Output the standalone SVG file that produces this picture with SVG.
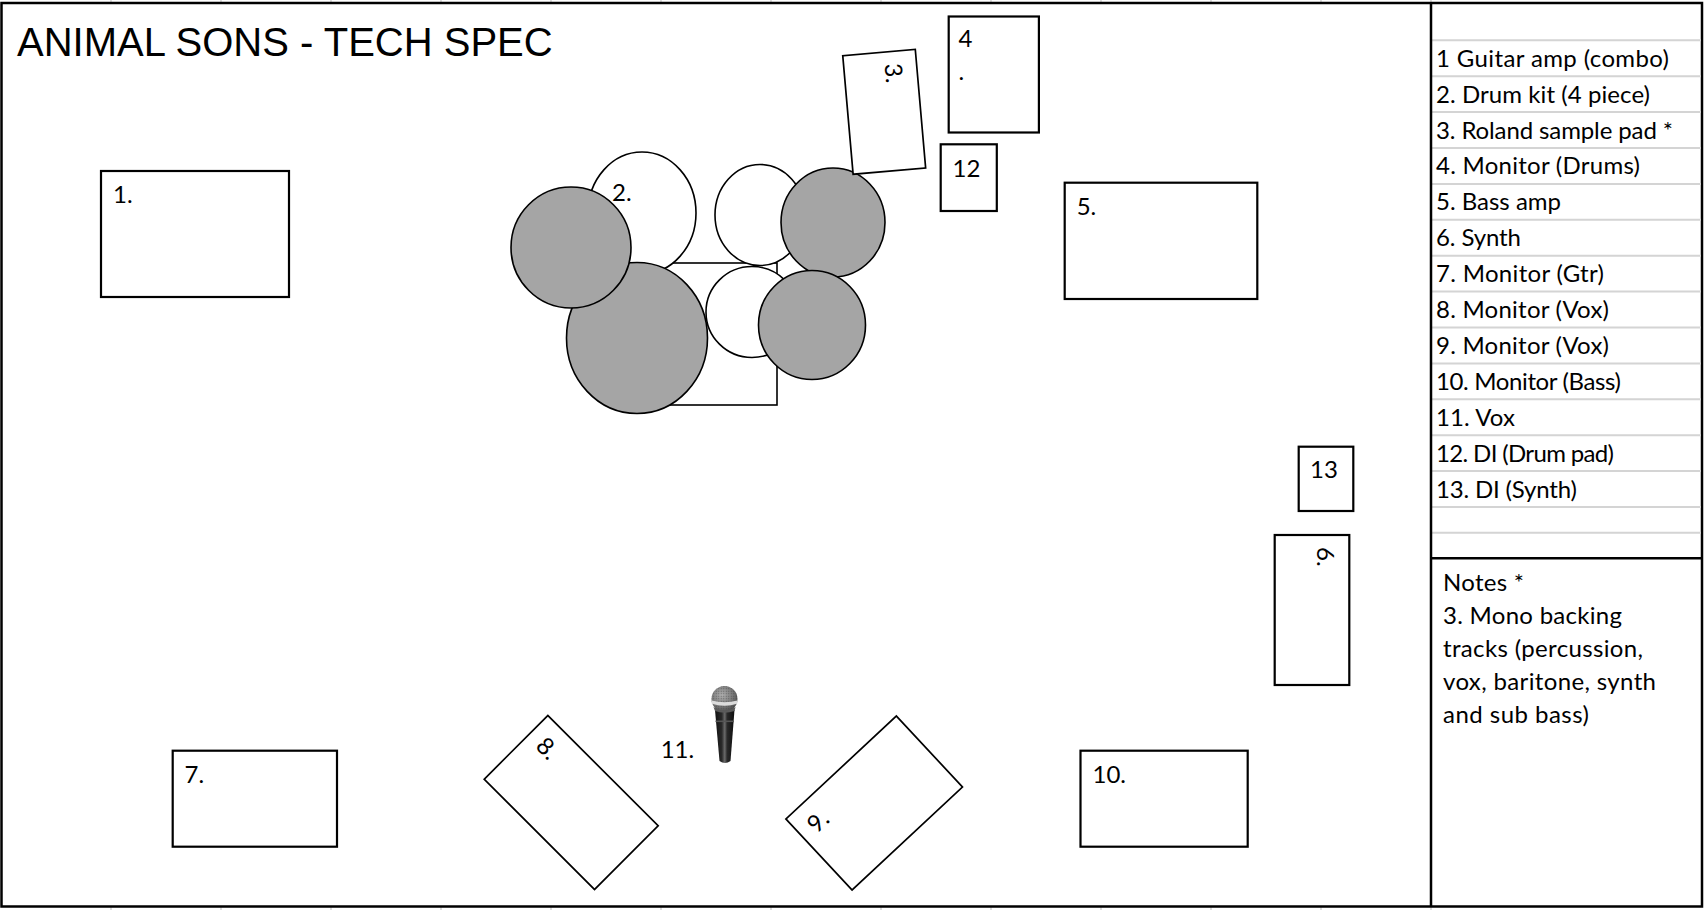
<svg xmlns="http://www.w3.org/2000/svg" width="1704" height="910" viewBox="0 0 1704 910">
<style>
.box{fill:#fff;stroke:#000;stroke-width:2.2}
.rbox{fill:#fff;stroke:#000;stroke-width:1.7}
.wd{fill:#fff;stroke:#000;stroke-width:1.6}
.gd{fill:#a5a5a5;stroke:#000;stroke-width:1.6}
.lbl{font-family:Lato,"Open Sans",sans-serif;font-size:24px;fill:#000}
.row{fill:none;stroke:#d4d4d4;stroke-width:2}
.tick{stroke:#d4d4d4;stroke-width:1.5}
</style>
<defs>
<radialGradient id="meshg" cx="0.4" cy="0.35" r="0.7">
<stop offset="0" stop-color="#b0b0b0"/>
<stop offset="0.6" stop-color="#7a7a7a"/>
<stop offset="1" stop-color="#4a4a4a"/>
</radialGradient>
<linearGradient id="bodyg" x1="0" y1="0" x2="1" y2="0">
<stop offset="0" stop-color="#111"/>
<stop offset="0.35" stop-color="#2a2a2a"/>
<stop offset="0.5" stop-color="#6a6a6a"/>
<stop offset="0.62" stop-color="#2a2a2a"/>
<stop offset="1" stop-color="#0c0c0c"/>
</linearGradient>
<pattern id="dots" width="2.5" height="2.5" patternUnits="userSpaceOnUse">
<circle cx="1.25" cy="1.25" r="0.6" fill="#3c3c3c"/>
</pattern>
</defs>
<rect width="1704" height="910" fill="#fff"/>
<g id="grid-ticks">
<path class="tick" d="M111 0V3M221 0V3M331 0V3M441 0V3M551 0V3M661 0V3M771 0V3M881 0V3M991 0V3M1101 0V3M1211 0V3M1321 0V3M1431 0V3"/>
<path class="tick" d="M111 907V910M221 907V910M331 907V910M441 907V910M551 907V910M661 907V910M771 907V910M881 907V910M991 907V910M1101 907V910M1211 907V910M1321 907V910M1431 907V910"/>
</g>
<g id="frame">
<rect x="1.5" y="3" width="1700.5" height="903.5" fill="none" stroke="#000" stroke-width="2.5"/>
</g>
<g id="title">
<text x="17" y="55.5" font-family="Liberation Sans, Arial, sans-serif" font-size="40" fill="#000">ANIMAL SONS - TECH SPEC</text>
</g>
<g id="legend">
<path class="row" d="M1432 40.3H1701M1432 76.2H1701M1432 112.1H1701M1432 148H1701M1432 183.9H1701M1432 219.8H1701M1432 255.7H1701M1432 291.6H1701M1432 327.5H1701M1432 363.4H1701M1432 399.3H1701M1432 435.2H1701M1432 471.1H1701M1432 507H1701M1432 532.7H1701"/>
<line x1="1431" y1="3" x2="1431" y2="906" stroke="#000" stroke-width="2.5"/>
<line x1="1431" y1="558.3" x2="1702" y2="558.3" stroke="#000" stroke-width="2.5"/>
<text class="lbl" x="1436" y="66.7" textLength="233">1 Guitar amp (combo)</text>
<text class="lbl" x="1436" y="102.6" textLength="214">2. Drum kit (4 piece)</text>
<text class="lbl" x="1436" y="138.5" textLength="237">3. Roland sample pad *</text>
<text class="lbl" x="1436" y="174.4" textLength="204">4. Monitor (Drums)</text>
<text class="lbl" x="1436" y="210.3" textLength="125">5. Bass amp</text>
<text class="lbl" x="1436" y="246.2" textLength="85">6. Synth</text>
<text class="lbl" x="1436" y="282.1" textLength="168">7. Monitor (Gtr)</text>
<text class="lbl" x="1436" y="318" textLength="173">8. Monitor (Vox)</text>
<text class="lbl" x="1436" y="353.9" textLength="173">9. Monitor (Vox)</text>
<text class="lbl" x="1436" y="389.8" textLength="185">10. Monitor (Bass)</text>
<text class="lbl" x="1436" y="425.7" textLength="79">11. Vox</text>
<text class="lbl" x="1436" y="461.6" textLength="178">12. DI (Drum pad)</text>
<text class="lbl" x="1436" y="497.5" textLength="141">13. DI (Synth)</text>
</g>
<g id="notes">
<text class="lbl" x="1443" y="591" textLength="81">Notes *</text>
<text class="lbl" x="1443" y="624" textLength="179">3. Mono backing</text>
<text class="lbl" x="1443" y="657" textLength="200">tracks (percussion,</text>
<text class="lbl" x="1443" y="690" textLength="213">vox, baritone, synth</text>
<text class="lbl" x="1443" y="723" textLength="146">and sub bass)</text>
</g>
<g id="node-1">
<rect class="box" x="101" y="171" width="188" height="126"/>
<text class="lbl" x="113" y="203">1.</text>
</g>
<g id="node-2">
<rect class="wd" x="660" y="263" width="117" height="142"/>
<ellipse class="wd" cx="642" cy="213" rx="54" ry="61"/>
<ellipse class="gd" cx="637" cy="338" rx="70.5" ry="75.5"/>
<ellipse class="gd" cx="571" cy="247.5" rx="60" ry="60.5"/>
<ellipse class="wd" cx="760" cy="215" rx="45" ry="50.5"/>
<ellipse class="gd" cx="833" cy="222.5" rx="52" ry="54.5"/>
<ellipse class="wd" cx="752" cy="312" rx="46" ry="45.5"/>
<ellipse class="gd" cx="812" cy="325" rx="53.5" ry="54.5"/>
<text class="lbl" x="612" y="201">2.</text>
</g>
<g id="node-3" transform="translate(884.2,111.8) rotate(85)">
<rect class="rbox" x="-59.5" y="-36.4" width="119" height="72.8"/>
<text class="lbl" x="-47.5" y="-4.4">3.</text>
</g>
<g id="node-4">
<rect class="box" x="948.7" y="16.5" width="90.2" height="116"/>
<text class="lbl" x="958.5" y="46.7">4</text>
<text class="lbl" x="958.5" y="79.7">.</text>
</g>
<g id="node-12">
<rect class="box" x="940.7" y="144.3" width="56.1" height="66.7"/>
<text class="lbl" x="952.5" y="176.7">12</text>
</g>
<g id="node-5">
<rect class="box" x="1064.7" y="182.7" width="192.6" height="116.3"/>
<text class="lbl" x="1076.7" y="215">5.</text>
</g>
<g id="node-13">
<rect class="box" x="1298.7" y="446.7" width="54.6" height="64.3"/>
<text class="lbl" x="1310" y="477.7">13</text>
</g>
<g id="node-6">
<rect class="box" x="1274.7" y="535" width="74.6" height="150"/>
<text class="lbl" transform="translate(1317.3,547) rotate(90)">6.</text>
</g>
<g id="node-7">
<rect class="box" x="172.7" y="750.7" width="164.3" height="96"/>
<text class="lbl" x="184.5" y="782.7">7.</text>
</g>
<g id="node-8" transform="translate(571.2,802.5) rotate(45)">
<rect class="rbox" x="-78" y="-45" width="156" height="90"/>
<text class="lbl" x="-65" y="-13">8.</text>
</g>
<g id="node-11">
<text class="lbl" x="660.7" y="758.3">11.</text>
<path d="M715 710 L734.5 710 L730.5 761 Q725 765 719.5 761 Z" fill="url(#bodyg)"/>
<rect x="715.5" y="720.5" width="18.5" height="1.6" fill="#555"/>
<ellipse cx="724.5" cy="699" rx="13" ry="13" fill="url(#meshg)"/>
<ellipse cx="724.5" cy="699" rx="13" ry="13" fill="url(#dots)" opacity="0.6"/>
<path d="M711.6 700.5 Q724.5 704 737.4 700.5 L737.2 703.8 Q724.5 707.5 711.8 703.8 Z" fill="#dcdcdc"/>
<path d="M713.5 707 Q724.5 714 735.5 707 L734.5 711 Q724.5 714.5 715 711 Z" fill="#5a5a5a"/>
</g>
<g id="node-9" transform="translate(874.2,803) rotate(-43)">
<rect class="rbox" x="-75.5" y="-48.5" width="151" height="97"/>
<text class="lbl" x="-63.5" y="-16.5">9.</text>
</g>
<g id="node-10">
<rect class="box" x="1080.5" y="750.7" width="167.2" height="96"/>
<text class="lbl" x="1092.5" y="782.7">10.</text>
</g>
<g id="connectors"/>
</svg>
